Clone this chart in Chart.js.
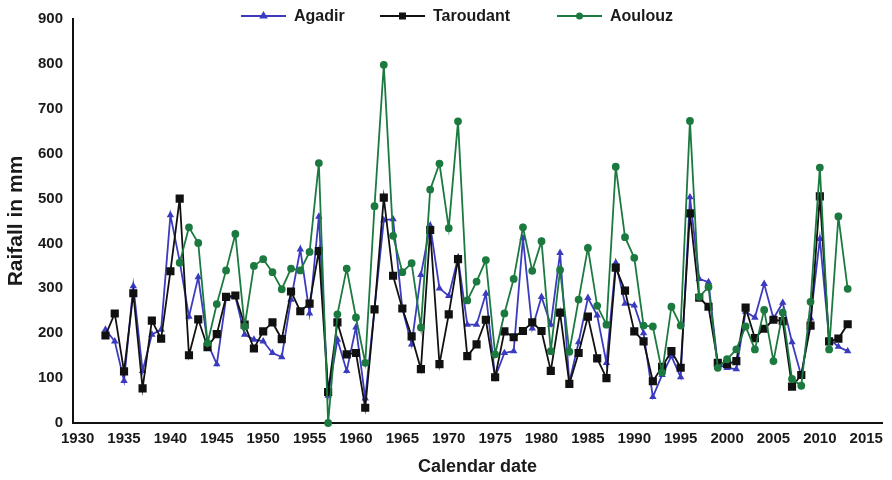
<!DOCTYPE html>
<html>
<head>
<meta charset="utf-8">
<script src="https://cdn.jsdelivr.net/npm/chart.js@4.4.1/dist/chart.umd.min.js"></script>
<style>
  html, body { margin: 0; padding: 0; background: #ffffff; }
  #wrap { width: 892px; height: 480px; }
</style>
</head>
<body>
<div id="wrap"><canvas id="rainChart" width="892" height="480"></canvas></div>
<script>
// hydrological years shown on the chart
const years = [
  1933, 1934, 1935, 1936, 1937, 1938, 1939, 1940, 1941, 1942,
  1943, 1944, 1945, 1946, 1947, 1948, 1949, 1950, 1951, 1952,
  1953, 1954, 1955, 1956, 1957, 1958, 1959, 1960, 1961, 1962,
  1963, 1964, 1965, 1966, 1967, 1968, 1969, 1970, 1971, 1972,
  1973, 1974, 1975, 1976, 1977, 1978, 1979, 1980, 1981, 1982,
  1983, 1984, 1985, 1986, 1987, 1988, 1989, 1990, 1991, 1992,
  1993, 1994, 1995, 1996, 1997, 1998, 1999, 2000, 2001, 2002,
  2003, 2004, 2005, 2006, 2007, 2008, 2009, 2010, 2011, 2012,
  2013
];

// rainfall in mm
const agadir = [
  208, 182, 94, 305, 116, 197, 208, 463, 360, 237,
  325, 178, 131, 278, 281, 197, 186, 182, 156, 147,
  275, 387, 244, 460, 61, 186, 116, 213, 55, 255,
  452, 454, 255, 175, 330, 440, 300, 283, 368, 219,
  219, 288, 102, 156, 160, 412, 211, 281, 219, 379,
  91, 180, 279, 240, 134, 357, 266, 262, 200, 58,
  107, 149, 102, 503, 321, 314, 130, 123, 120, 248,
  235, 310, 233, 268, 180, 105, 233, 410, 188, 170,
  160
];

const taroudant = [
  195, 244, 115, 289, 77, 228, 188, 338, 500, 151,
  231, 169, 198, 281, 284, 219, 166, 204, 224, 187,
  293, 249, 266, 383, 69, 224, 153, 156, 34, 253,
  502, 328, 255, 193, 120, 430, 131, 242, 365, 149,
  175, 230, 102, 204, 191, 205, 224, 205, 116, 246,
  87, 156, 237, 144, 100, 346, 295, 204, 182, 93,
  125, 160, 123, 467, 279, 259, 134, 131, 138, 257,
  189, 210, 230, 227, 81, 107, 217, 505, 182, 188,
  220
];

const aoulouz = [
  null, null, null, null, null, null, null, null, 357, 436,
  401, 178, 265, 340, 421, 215, 350, 365, 336, 298,
  344, 340, 381, 579, 0, 242, 344, 235, 134, 483,
  798, 417, 336, 356, 213, 520, 578, 434, 672, 273,
  315, 363, 153, 244, 321, 436, 339, 405, 160, 341,
  159, 275, 390, 261, 219, 571, 414, 368, 217, 215,
  113, 259, 217, 673, 281, 303, 123, 142, 164, 215,
  164, 252, 138, 246, 98, 83, 270, 569, 164, 460,
  299
];

const xTickYears = [1930, 1935, 1940, 1945, 1950, 1955, 1960, 1965, 1970,
  1975, 1980, 1985, 1990, 1995, 2000, 2005, 2010, 2015];

const FONT = "'Liberation Sans', Arial, sans-serif";

function toPoints(values) {
  return years.map((yr, i) => ({ x: yr, y: values[i] }));
}

// legend drawn Excel-style: a short line with the marker in its middle
const lineLegend = {
  id: 'lineLegend',
  afterDraw(chart) {
    const ctx = chart.ctx;
    const y = 16;
    const slots = [241, 380, 557];
    const sizes = [3, 3.5, 2.5];
    chart.data.datasets.forEach((ds, i) => {
      const x0 = slots[i];
      const x1 = x0 + 45;
      ctx.save();
      ctx.strokeStyle = ds.borderColor;
      ctx.lineWidth = 2;
      ctx.beginPath();
      ctx.moveTo(x0, y);
      ctx.lineTo(x1, y);
      ctx.stroke();
      ctx.fillStyle = ds.pointBackgroundColor;
      ctx.strokeStyle = ds.borderColor;
      Chart.helpers.drawPoint(ctx, {
        pointStyle: ds.pointStyle,
        radius: sizes[i],
        rotation: 0,
        borderWidth: 1
      }, (x0 + x1) / 2, y);
      ctx.fillStyle = '#1a1a1a';
      ctx.font = 'bold 16px ' + FONT;
      ctx.textBaseline = 'middle';
      ctx.textAlign = 'left';
      ctx.fillText(ds.label, x1 + 8, y + 1);
      ctx.restore();
    });
  }
};

const ctx = document.getElementById('rainChart').getContext('2d');
new Chart(ctx, {
  type: 'line',
  data: {
    datasets: [
      {
        label: 'Agadir',
        data: toPoints(agadir),
        borderColor: '#3b3bbf',
        backgroundColor: '#3b3bbf',
        pointBackgroundColor: '#3b3bbf',
        pointBorderColor: '#3b3bbf',
        pointStyle: 'triangle',
        pointRadius: 2.5,
        borderWidth: 1.8,
        tension: 0,
        clip: false,
        order: 3
      },
      {
        label: 'Taroudant',
        data: toPoints(taroudant),
        borderColor: '#111111',
        backgroundColor: '#111111',
        pointBackgroundColor: '#111111',
        pointBorderColor: '#111111',
        pointStyle: 'rect',
        pointRadius: 4.5,
        borderWidth: 1.8,
        tension: 0,
        clip: false,
        order: 2
      },
      {
        label: 'Aoulouz',
        data: toPoints(aoulouz),
        borderColor: '#1c7a40',
        backgroundColor: '#1c7a40',
        pointBackgroundColor: '#1c7a40',
        pointBorderColor: '#1c7a40',
        pointStyle: 'circle',
        pointRadius: 3,
        borderWidth: 1.8,
        tension: 0,
        clip: false,
        order: 1
      }
    ]
  },
  options: {
    responsive: false,
    animation: false,
    layout: { padding: { top: 13, right: 10, bottom: 0, left: 0 } },
    plugins: {
      legend: { display: false },
      tooltip: { enabled: false }
    },
    scales: {
      x: {
        type: 'linear',
        min: 1929.5,
        max: 2016.7,
        grid: { display: false, drawTicks: false },
        border: { display: true, color: '#111111', width: 2 },
        afterBuildTicks: (scale) => {
          scale.ticks = xTickYears.map(v => ({ value: v }));
        },
        afterFit: (scale) => { scale.height = 57; },
        ticks: {
          autoSkip: false,
          maxRotation: 0,
          padding: 7,
          color: '#1a1a1a',
          font: { family: FONT, size: 15, weight: 'bold' },
          callback: (v) => String(v)
        },
        title: {
          display: true,
          text: 'Calendar date',
          color: '#1a1a1a',
          padding: { top: 0, bottom: 2 },
          font: { family: FONT, size: 18, weight: 'bold', lineHeight: 1.2 }
        }
      },
      y: {
        min: 0,
        max: 900,
        grid: { display: false, drawTicks: false },
        border: { display: true, color: '#111111', width: 2 },
        afterFit: (scale) => { scale.width = 73; },
        ticks: {
          stepSize: 100,
          padding: 10,
          color: '#1a1a1a',
          font: { family: FONT, size: 15, weight: 'bold' }
        },
        title: {
          display: true,
          text: 'Raifall in mm',
          color: '#1a1a1a',
          padding: { top: 4, bottom: 0 },
          font: { family: FONT, size: 21, weight: 'bold', lineHeight: 1.2 }
        }
      }
    }
  },
  plugins: [lineLegend]
});
</script>
</body>
</html>
